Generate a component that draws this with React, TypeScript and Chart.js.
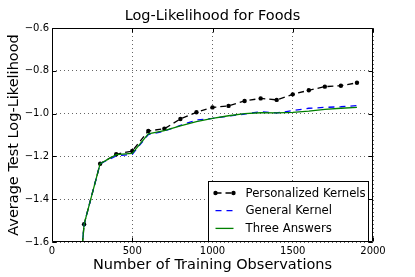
import React, { useEffect, useRef } from "react";
import { Chart, registerables } from "chart.js";

Chart.register(...registerables);

const observations = [100, 200, 300, 400, 500, 600, 700, 800, 900, 1000, 1100, 1200, 1300, 1400, 1500, 1600, 1700, 1800, 1900];
const personalizedKernels = [-2.4, -1.517, -1.234, -1.19, -1.175, -1.081, -1.071, -1.025, -0.994, -0.971, -0.964, -0.941, -0.929, -0.936, -0.91, -0.891, -0.874, -0.87, -0.856];
const generalKernel = [-2.4, -1.517, -1.234, -1.198, -1.19, -1.098, -1.082, -1.055, -1.03, -1.022, -1.012, -1.002, -0.991, -0.997, -0.986, -0.975, -0.971, -0.968, -0.963];
const threeAnswers = [-2.4, -1.517, -1.234, -1.192, -1.186, -1.095, -1.08, -1.057, -1.038, -1.022, -1.01, -1.0, -0.996, -0.997, -0.994, -0.988, -0.98, -0.975, -0.971];

const seriesNames = ["Personalized Kernels", "General Kernel", "Three Answers"];
const xTickValues = [0, 500, 1000, 1500, 2000];
const yTickValues = [-1.6, -1.4, -1.2, -1.0, -0.8, -0.6];

const titleText = "Log-Likelihood for Foods";
const xTitle = "Number of Training Observations";
const yTitle = "Average Test Log-Likelihood";

const FONT = "'DejaVu Sans', 'Liberation Sans', sans-serif";

const fmtY = (v: number) => {
  const s = Math.abs(v).toFixed(1);
  return v < 0 ? "\u2212" + s : s;
};

const decorPlugin = {
  id: "decor",
  afterDraw(chart: any) {
    const { ctx, chartArea: a, scales } = chart;
    ctx.save();
    ctx.setLineDash([]);
    ctx.strokeStyle = "#000";
    ctx.lineWidth = 1;
    const L = Math.round(a.left) + 0.5;
    const R = Math.round(a.right) - 0.5;
    const T = Math.round(a.top) + 0.5;
    const B = Math.round(a.bottom) - 0.5;
    ctx.beginPath();
    ctx.rect(L, T, R - L, B - T);
    ctx.stroke();
    ctx.beginPath();
    for (const v of xTickValues) {
      const px = Math.round(scales.x.getPixelForValue(v)) + 0.5;
      ctx.moveTo(px, B);
      ctx.lineTo(px, B - 4);
      ctx.moveTo(px, T);
      ctx.lineTo(px, T + 4);
    }
    for (const v of yTickValues) {
      const py = Math.round(scales.y.getPixelForValue(v)) + 0.5;
      ctx.moveTo(L, py);
      ctx.lineTo(L + 4, py);
      ctx.moveTo(R, py);
      ctx.lineTo(R - 4, py);
    }
    ctx.stroke();

    ctx.fillStyle = "#000";
    ctx.font = `14.5px ${FONT}`;
    ctx.textAlign = "center";
    ctx.textBaseline = "middle";
    ctx.fillText(titleText, (a.left + a.right) / 2, 16);

    const lw = 160;
    const lh = 60;
    const lx = Math.round(a.right - 5 - lw) + 0.5;
    const ly = Math.round(a.bottom - lh) - 0.5;
    ctx.fillStyle = "#fff";
    ctx.fillRect(lx, ly, lw, lh);
    ctx.strokeStyle = "#000";
    ctx.lineWidth = 1;
    ctx.strokeRect(lx, ly, lw, lh);
    const ds = chart.data.datasets;
    ctx.font = `11.7px ${FONT}`;
    ctx.textAlign = "left";
    ctx.textBaseline = "middle";
    for (let i = 0; i < 3; i++) {
      const d = ds[i];
      const cy = ly + 11.5 + i * 17.7;
      const x1 = lx + 7;
      const x2 = lx + 25;
      ctx.save();
      ctx.strokeStyle = d.borderColor;
      ctx.lineWidth = d.borderWidth;
      ctx.setLineDash(d.borderDash || []);
      ctx.beginPath();
      ctx.moveTo(x1, cy);
      ctx.lineTo(x2, cy);
      ctx.stroke();
      if (d.pointRadius > 0) {
        ctx.fillStyle = d.pointBackgroundColor;
        for (const px of [x1, x2]) {
          ctx.beginPath();
          ctx.arc(px, cy, d.pointRadius, 0, Math.PI * 2);
          ctx.fill();
        }
      }
      ctx.restore();
      ctx.fillStyle = "#000";
      ctx.fillText(seriesNames[i], lx + 37, cy + 0.5);
    }
    ctx.restore();
  },
};

export default function App() {
  const ref = useRef<HTMLCanvasElement | null>(null);

  useEffect(() => {
    if (!ref.current) return;
    const chart = new Chart(ref.current, {
      type: "line",
      data: {
        labels: observations,
        datasets: [
          {
            label: seriesNames[0],
            data: observations.map((x, i) => ({ x, y: personalizedKernels[i] })),
            borderColor: "#000",
            backgroundColor: "#000",
            borderWidth: 1.3,
            borderDash: [6, 4],
            pointRadius: 2.2,
            pointBackgroundColor: "#000",
            pointBorderWidth: 0,
            tension: 0,
            order: 3,
          },
          {
            label: seriesNames[1],
            data: observations.map((x, i) => ({ x, y: generalKernel[i] })),
            borderColor: "#0000ff",
            backgroundColor: "#0000ff",
            borderWidth: 1.3,
            borderDash: [6, 5],
            pointRadius: 0,
            tension: 0,
            order: 2,
          },
          {
            label: seriesNames[2],
            data: observations.map((x, i) => ({ x, y: threeAnswers[i] })),
            borderColor: "#008000",
            backgroundColor: "#008000",
            borderWidth: 1.3,
            pointRadius: 0,
            tension: 0,
            order: 1,
          },
        ],
      },
      options: {
        animation: false,
        responsive: false,
        devicePixelRatio: 1,
        layout: { padding: { top: 28, right: 42, left: 0, bottom: 0 } },
        plugins: {
          legend: { display: false },
          title: { display: false },
          tooltip: { enabled: false },
        },
        scales: {
          x: {
            type: "linear",
            min: 0,
            max: 2000,
            afterFit: (s: any) => {
              s.height = 35;
            },
            afterBuildTicks: (s: any) => {
              s.ticks = xTickValues.map((v) => ({ value: v }));
            },
            ticks: {
              color: "#000",
              font: { family: FONT, size: 10 },
              padding: 3,
              maxRotation: 0,
              callback: (v: any) => String(v),
            },
            grid: { color: "#666", lineWidth: 1, drawTicks: false },
            border: { display: false, dash: [1, 3] },
            title: {
              display: true,
              text: xTitle,
              color: "#000",
              font: { family: FONT, size: 14.5 },
              padding: { top: 0, bottom: 3 },
            },
          },
          y: {
            type: "linear",
            min: -1.6,
            max: -0.6,
            afterFit: (s: any) => {
              s.width = 52;
            },
            afterBuildTicks: (s: any) => {
              s.ticks = yTickValues.map((v) => ({ value: v }));
            },
            ticks: {
              color: "#000",
              font: { family: FONT, size: 10 },
              padding: 3,
              callback: (v: any) => fmtY(Number(v)),
            },
            grid: { color: "#666", lineWidth: 1, drawTicks: false },
            border: { display: false, dash: [1, 3] },
            title: {
              display: true,
              text: yTitle,
              color: "#000",
              font: { family: FONT, size: 14.5 },
              padding: { top: 6, bottom: 0 },
            },
          },
        },
      },
      plugins: [decorPlugin],
    });
    return () => chart.destroy();
  }, []);

  return (
    <div style={{ position: "fixed", left: 0, top: 0, width: 415, height: 277, background: "#fff" }}>
      <canvas ref={ref} width={415} height={277} style={{ width: 415, height: 277 }} />
    </div>
  );
}
